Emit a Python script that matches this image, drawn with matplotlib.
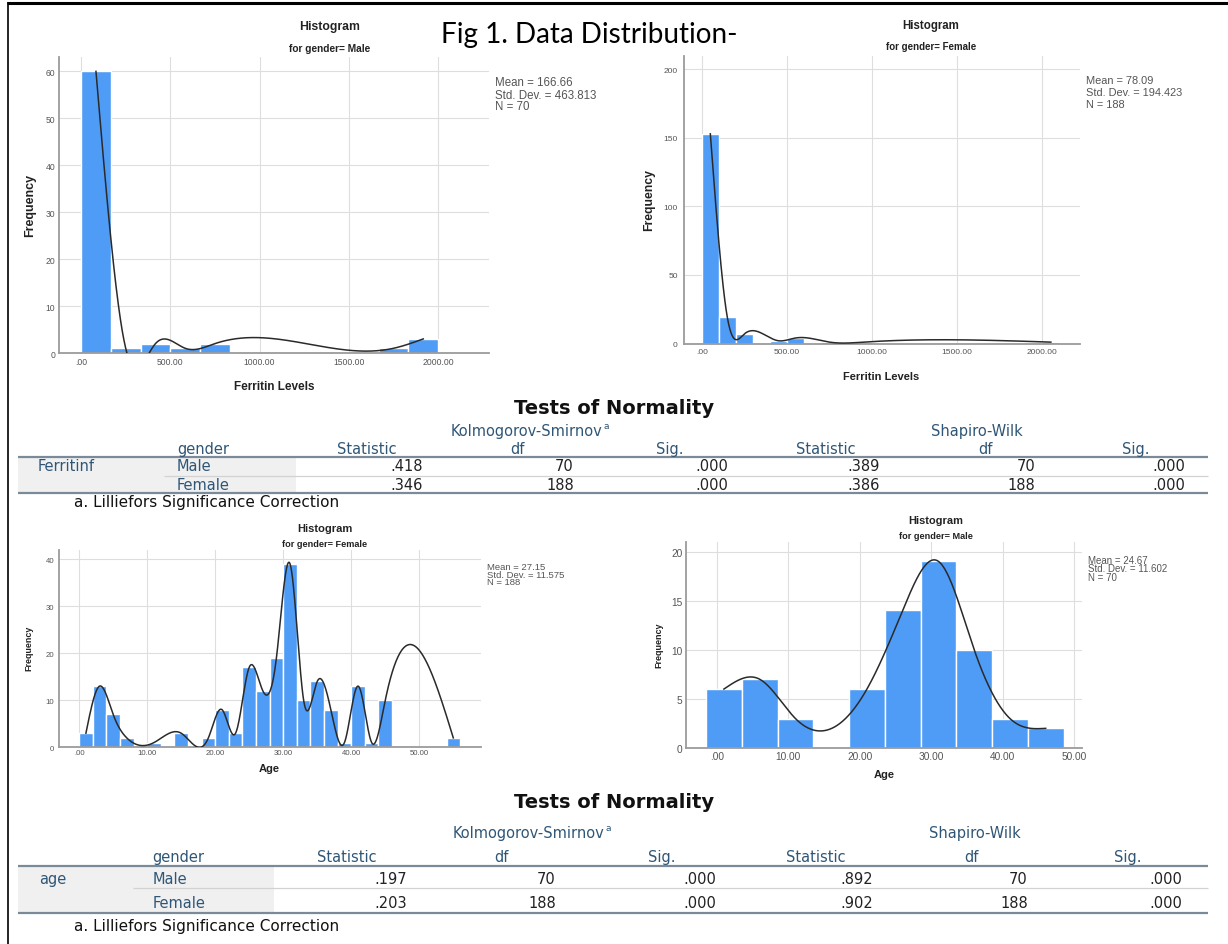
import numpy as np
import matplotlib
matplotlib.use("Agg")
import matplotlib.pyplot as plt
import matplotlib.font_manager as fm
from matplotlib.lines import Line2D
from matplotlib.patches import Rectangle

# ---------------- data ----------------
fig_title = "Fig 1. Data Distribution-"

ferritin_male_counts = [60, 1, 2, 1, 2, 0, 0, 0, 0, 0, 1, 3]
ferritin_male_bin_start = 0.0
ferritin_male_bin_width = 166.67
ferritin_male_stats = ["Mean = 166.66", "Std. Dev. = 463.813", "N = 70"]

ferritin_female_counts = [153, 19, 7, 0, 2, 4, 0, 1, 0, 1, 0, 0, 0, 0, 0, 0, 0, 0, 0, 0, 1]
ferritin_female_bin_start = 0.0
ferritin_female_bin_width = 100.0
ferritin_female_stats = ["Mean = 78.09", "Std. Dev. = 194.423", "N = 188"]

age_female_counts = [3, 13, 7, 2, 0, 1, 0, 3, 0, 2, 8, 3, 17, 12, 19, 39, 10, 14,
                     8, 1, 13, 1, 10, 0, 0, 0, 0, 2]
age_female_bin_start = 0.0
age_female_bin_width = 2.0
age_female_stats = ["Mean = 27.15", "Std. Dev. = 11.575", "N = 188"]

age_male_counts = [6, 7, 3, 0, 6, 14, 19, 10, 3, 2]
age_male_bin_start = -1.5
age_male_bin_width = 5.0
age_male_stats = ["Mean = 24.67", "Std. Dev. = 11.602", "N = 70"]

ferritin_ticks = [0, 500, 1000, 1500, 2000]
ferritin_tick_labels = [".00", "500.00", "1000.00", "1500.00", "2000.00"]
age_ticks = [0, 10, 20, 30, 40, 50]
age_tick_labels = [".00", "10.00", "20.00", "30.00", "40.00", "50.00"]
ferritin_male_yticks = [0, 10, 20, 30, 40, 50, 60]
ferritin_female_yticks = [0, 50, 100, 150, 200]
age_female_yticks = [0, 10, 20, 30, 40]
age_male_yticks = [0, 5, 10, 15, 20]

table_title = "Tests of Normality"
table_groups = ["Kolmogorov-Smirnov", "Shapiro-Wilk"]
table_columns = ["Statistic", "df", "Sig.", "Statistic", "df", "Sig."]
table_genders = ["Male", "Female"]
footnote = "a. Lilliefors Significance Correction"

ferritin_var = "Ferritinf"
ferritin_rows = [[".418", "70", ".000", ".389", "70", ".000"],
                 [".346", "188", ".000", ".386", "188", ".000"]]
age_var = "age"
age_rows = [[".197", "70", ".000", ".892", "70", ".000"],
            [".203", "188", ".000", ".902", "188", ".000"]]

# ---------------- setup ----------------
W, H = 1228, 945
avail = {f.name for f in fm.fontManager.ttflist}


def pick(*names):
    for n in names:
        if n in avail:
            return n
    return "DejaVu Sans"


ARIAL = pick("Liberation Sans", "DejaVu Sans")
WIDE = pick("DejaVu Sans")
TITLEF = pick("Lato", "Open Sans", "DejaVu Sans")

BAR = "#4f9cf6"
CURVE = "#2a2a2a"
GRID = "#dedede"
SPINE = "#9b9b9b"
TICKC = "#555555"
STATC = "#555555"
HEADC = "#2f5677"
VALC = "#222222"


def fx(x):
    return x / W


def fy(y):
    return 1 - y / H


fig = plt.figure(figsize=(W / 100, H / 100), dpi=100)
fig.patch.set_facecolor("white")
renderer = fig.canvas.get_renderer()


def natural_spline(x, y, xs):
    x = np.asarray(x, float)
    y = np.asarray(y, float)
    n = len(x)
    h = np.diff(x)
    A = np.zeros((n, n))
    rhs = np.zeros(n)
    A[0, 0] = A[-1, -1] = 1.0
    for i in range(1, n - 1):
        A[i, i - 1] = h[i - 1]
        A[i, i] = 2 * (h[i - 1] + h[i])
        A[i, i + 1] = h[i]
        rhs[i] = 6 * ((y[i + 1] - y[i]) / h[i] - (y[i] - y[i - 1]) / h[i - 1])
    M = np.linalg.solve(A, rhs)
    idx = np.clip(np.searchsorted(x, xs) - 1, 0, n - 2)
    x0, x1 = x[idx], x[idx + 1]
    hh = x1 - x0
    a = x1 - xs
    b = xs - x0
    return ((M[idx] * a ** 3 + M[idx + 1] * b ** 3) / (6 * hh)
            + (y[idx] / hh - M[idx] * hh / 6) * a
            + (y[idx + 1] / hh - M[idx + 1] * hh / 6) * b)


def panel(box, start, width, counts, xlim, ylim, xticks, xticklabels, yticks,
          tick_fs, xpad, ypad):
    l, t, r, b = box
    ax = fig.add_axes([fx(l), fy(b), (r - l) / W, (b - t) / H])
    counts = np.asarray(counts, float)
    centers = start + width * (np.arange(len(counts)) + 0.5)
    ax.bar(centers, counts, width=width, color=BAR, edgecolor="white",
           linewidth=1.0, zorder=2)
    nz = counts > 0
    xs = np.linspace(centers[nz][0], centers[nz][-1], 800)
    ax.plot(xs, natural_spline(centers[nz], counts[nz], xs), color=CURVE,
            lw=1.1, zorder=3)
    ax.set_xlim(*xlim)
    ax.set_ylim(*ylim)
    ax.set_xticks(xticks)
    ax.set_xticklabels(xticklabels)
    ax.set_yticks(yticks)
    ax.set_yticklabels([str(v) for v in yticks])
    ax.tick_params(axis="x", length=0, pad=xpad, labelsize=tick_fs, labelcolor=TICKC)
    ax.tick_params(axis="y", length=0, pad=ypad, labelsize=tick_fs, labelcolor=TICKC)
    for lab in ax.get_xticklabels() + ax.get_yticklabels():
        lab.set_fontfamily(ARIAL)
    ax.grid(True, color=GRID, lw=0.8)
    ax.set_axisbelow(True)
    for s in ("top", "right"):
        ax.spines[s].set_visible(False)
    for s in ("left", "bottom"):
        ax.spines[s].set_color(SPINE)
        ax.spines[s].set_linewidth(1.3)
    ax.set_facecolor("white")
    return ax


def labels(title_xy, sub_xy, title_fs, sub_fs, subtitle, ylab_xy, ylab_fs,
           xlab_xy, xlab_fs, xlabel, stats_x, stats_ys, stats_fs, stats):
    fig.text(fx(title_xy[0]), fy(title_xy[1]), "Histogram", ha="center",
             va="center", fontsize=title_fs, fontweight="bold", family=ARIAL,
             color="#222222")
    fig.text(fx(sub_xy[0]), fy(sub_xy[1]), subtitle, ha="center", va="center",
             fontsize=sub_fs, fontweight="bold", family=ARIAL, color="#222222")
    fig.text(fx(ylab_xy[0]), fy(ylab_xy[1]), "Frequency", ha="center",
             va="center", rotation=90, fontsize=ylab_fs, fontweight="bold",
             family=ARIAL, color="#222222")
    fig.text(fx(xlab_xy[0]), fy(xlab_xy[1]), xlabel, ha="center", va="center",
             fontsize=xlab_fs, fontweight="bold", family=ARIAL, color="#222222")
    for s, yy in zip(stats, stats_ys):
        fig.text(fx(stats_x), fy(yy), s, ha="left", va="center",
                 fontsize=stats_fs, family=ARIAL, color=STATC)


# ---------------- histograms ----------------
panel((59.3, 58.3, 489, 354), ferritin_male_bin_start, ferritin_male_bin_width,
      ferritin_male_counts, (-122, 2285), (0, 63), ferritin_ticks,
      ferritin_tick_labels, ferritin_male_yticks, 6.2, 3.2, 3.0)
labels((330, 26.7), (330, 48.7), 8.8, 7.3, "for gender= Male", (29.7, 205), 9,
       (274, 386.7), 8.5, "Ferritin Levels", 495, (83.3, 95.7, 107.3), 8.3,
       ferritin_male_stats)

panel((684.1, 56.7, 1079.8, 344.5), ferritin_female_bin_start,
      ferritin_female_bin_width, ferritin_female_counts, (-104, 2220), (0, 210),
      ferritin_ticks, ferritin_tick_labels, ferritin_female_yticks, 6.0, 3.5, 4.5)
labels((931, 26), (931, 47.3), 8.3, 7.0, "for gender= Female", (649.4, 200), 8.8,
       (880.8, 376.7), 8.0, "Ferritin Levels", 1085.8, (81, 93.3, 104.7), 7.9,
       ferritin_female_stats)

panel((58.5, 550.7, 481.2, 748.3), age_female_bin_start, age_female_bin_width,
      age_female_counts, (-3.03, 59.1), (0, 42), age_ticks, age_tick_labels,
      age_female_yticks, 5.6, 1.5, 3.0)
labels((325, 529.3), (325, 544.3), 8.0, 6.6, "for gender= Female", (28.5, 648.3),
       6.4, (269.7, 769.3), 8.0, "Age", 487.2, (567.7, 575.3, 582.7), 6.8,
       age_female_stats)

panel((686.1, 542.7, 1081.8, 749), age_male_bin_start, age_male_bin_width,
      age_male_counts, (-4.29, 51.05), (0, 21), age_ticks, age_tick_labels,
      age_male_yticks, 7.3, 2.2, 2.5)
labels((936, 520.7), (936, 536.3), 7.9, 6.6, "for gender= Male", (659.3, 645),
       6.5, (884.7, 775), 8.0, "Age", 1088, (561, 569.3, 577.7), 7.0,
       age_male_stats)

# ---------------- figure title ----------------
t = fig.text(fx(441), fy(42.7), fig_title, ha="left", va="baseline",
             fontsize=18, family=TITLEF, color="black")
w = t.get_window_extent(renderer).width
t.set_fontsize(18 * 295.0 / w)


# ---------------- tables ----------------
def hline(x0, x1, y, color, lw):
    fig.add_artist(Line2D([fx(x0), fx(x1)], [fy(y), fy(y)], color=color, lw=lw,
                          solid_capstyle="butt"))


def table(var, rows, title_y, group_y, group_cx, head_y, head_cx, line1_y,
          row_ys, mid_y, mid_x0, bottom_y, foot_y, val_rx, var_x, gender_x,
          bg_right, fs):
    fig.add_artist(Rectangle((fx(18), fy(bottom_y)), (bg_right - 18) / W,
                             (bottom_y - line1_y) / H, transform=fig.transFigure,
                             facecolor="#f0f0f0", edgecolor="none", zorder=0))
    fig.text(fx(614), fy(title_y), table_title, ha="center", va="center",
             fontsize=14, fontweight="bold", family=WIDE, color="#111111")
    for g, cx in zip(table_groups, group_cx):
        tt = fig.text(fx(cx), fy(group_y), g, ha="center", va="center",
                      fontsize=fs, family=WIDE, color=HEADC)
        if g == table_groups[0]:
            bb = tt.get_window_extent(renderer)
            fig.text(fx(bb.x1 + 1.5), fy(group_y - 4.5), "a", ha="left",
                     va="center", fontsize=fs * 0.62, family=WIDE, color=HEADC)
    fig.text(fx(gender_x), fy(head_y), "gender", ha="left", va="center",
             fontsize=fs, family=WIDE, color=HEADC)
    for c, cx in zip(table_columns, head_cx):
        fig.text(fx(cx), fy(head_y), c, ha="center", va="center", fontsize=fs,
                 family=WIDE, color=HEADC)
    hline(18, 1208, line1_y, "#7b8a98", 1.6)
    hline(mid_x0, 1208, mid_y, "#d2d2d2", 0.9)
    hline(18, 1208, bottom_y, "#7b8a98", 1.6)
    fig.text(fx(var_x), fy(row_ys[0]), var, ha="left", va="center",
             fontsize=fs, family=WIDE, color=HEADC)
    for gname, vals, yy in zip(table_genders, rows, row_ys):
        fig.text(fx(gender_x), fy(yy), gname, ha="left", va="center",
                 fontsize=fs, family=WIDE, color=HEADC)
        for v, rx in zip(vals, val_rx):
            fig.text(fx(rx), fy(yy), v, ha="right", va="center", fontsize=fs,
                     family=WIDE, color=VALC)
    fig.text(fx(74.4), fy(foot_y), footnote, ha="left", va="center",
             fontsize=fs + 0.5, family=WIDE, color="#111111")


table(ferritin_var, ferritin_rows, 408, 431.5, (526, 976.5), 449.5,
      (367, 517, 669.5, 826, 985, 1135.5), 457.5, (467, 485.5), 476.5, 164,
      493.5, 502.5, (423, 574, 728, 880, 1035, 1185), 38, 177, 296, 10.5)

table(age_var, age_rows, 802.7, 833.3, (528.6, 975), 857.3,
      (347, 501, 662, 816, 971, 1127.6), 867.3, (880, 904), 889, 133,
      914, 926.7, (407, 556, 716.5, 873, 1028, 1182), 39, 152.7, 274, 10.5)

# ---------------- frame ----------------
fig.add_artist(Line2D([fx(6.5), fx(1228)], [fy(3.5), fy(3.5)], color="black",
                      lw=2.2, solid_capstyle="butt"))
fig.add_artist(Line2D([fx(7.5), fx(7.5)], [fy(3), fy(945)], color="black",
                      lw=1.2, solid_capstyle="butt"))

fig.savefig("out.png", dpi=100, facecolor="white")
